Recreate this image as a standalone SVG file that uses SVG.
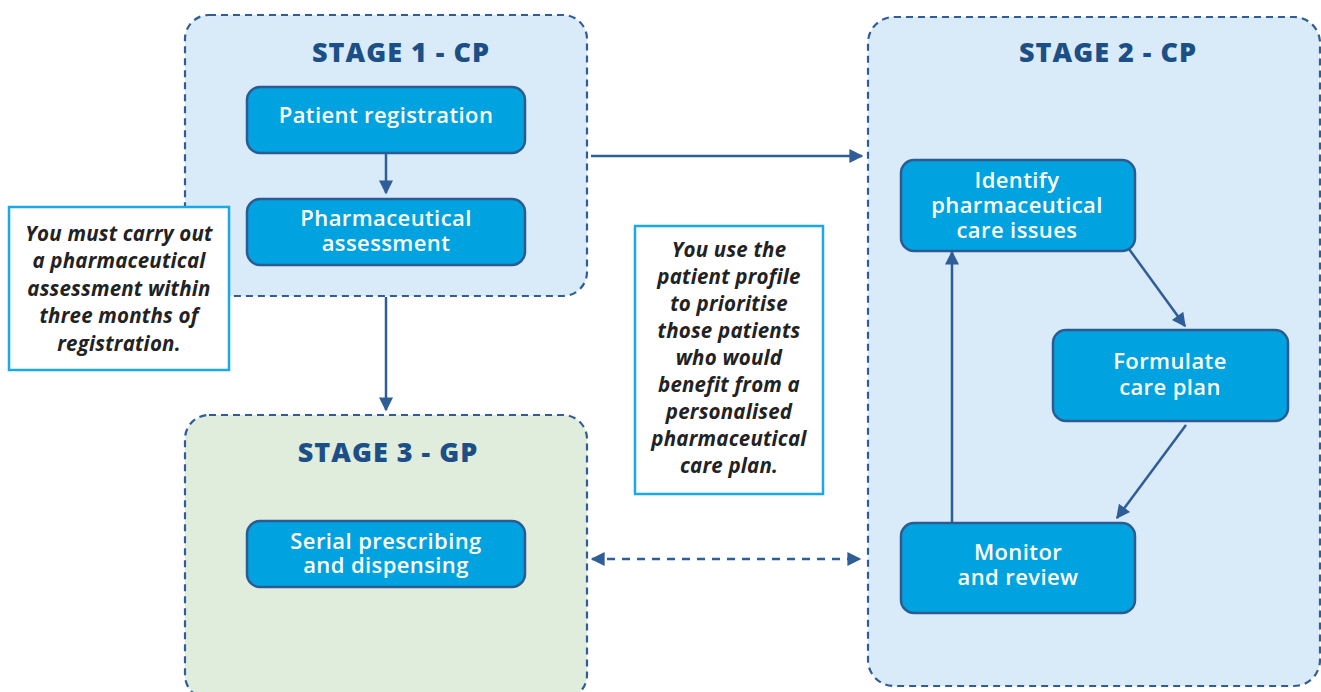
<svg xmlns="http://www.w3.org/2000/svg" width="1321" height="692" viewBox="0 0 1321 692">
  <style>
    .stage { stroke: #2e5d98; stroke-width: 2.2; stroke-dasharray: 7 5; }
    .cp { fill: #d9eaf8; }
    .gp { fill: #e0ecdc; }
    .title { font-family: "Open Sans", "Noto Sans", sans-serif; font-weight: 800; font-size: 27px; letter-spacing: 1px; fill: #1b4f86; text-anchor: middle; }
    .node rect { fill: #00a3e0; stroke: #2b5b92; stroke-width: 2.5; }
    .node text { font-family: "Open Sans", "Noto Sans", sans-serif; font-weight: 600; font-size: 22px; letter-spacing: 0.4px; fill: #ffffff; text-anchor: middle; }
    .note rect { fill: #ffffff; stroke: #1aa9e6; stroke-width: 2.5; }
    .note text { font-family: "Open Sans", "Noto Sans", sans-serif; font-style: italic; font-weight: 700; font-size: 20.5px; letter-spacing: 0.2px; fill: #222222; text-anchor: middle; }
    .edge { stroke: #2e5d98; stroke-width: 2.5; fill: none; }
    .dash { stroke-dasharray: 8 7; }
  </style>
  <defs>
    <marker id="headL" viewBox="0 0 10 10" refX="9" refY="5" markerWidth="18" markerHeight="14" markerUnits="userSpaceOnUse" orient="auto-start-reverse">
      <path d="M0,0 L10,5 L0,10 z" fill="#2e5d98"/>
    </marker>
  </defs>

  <!-- stage containers -->
  <g id="stage1">
    <rect class="stage cp" x="185" y="15" width="402" height="281" rx="24"/>
    <text class="title" x="401" y="62">STAGE 1 - CP</text>
  </g>
  <g id="stage2">
    <rect class="stage cp" x="868" y="17" width="452" height="669" rx="26"/>
    <text class="title" x="1108" y="62">STAGE 2 - CP</text>
  </g>
  <g id="stage3">
    <rect class="stage gp" x="185" y="415" width="402" height="284" rx="24"/>
    <text class="title" x="388" y="462">STAGE 3 - GP</text>
  </g>

  <!-- connectors -->
  <g id="connectors">
    <line class="edge" x1="386" y1="153" x2="386" y2="193" marker-end="url(#headL)"/>
    <line class="edge" x1="591" y1="156" x2="862" y2="156" marker-end="url(#headL)"/>
    <line class="edge" x1="386" y1="297" x2="386" y2="410" marker-end="url(#headL)"/>
    <line class="edge dash" x1="592" y1="559" x2="860" y2="559" marker-start="url(#headL)" marker-end="url(#headL)"/>
    <line class="edge" x1="1129" y1="249" x2="1185" y2="326" marker-end="url(#headL)"/>
    <line class="edge" x1="1186" y1="425" x2="1117" y2="518" marker-end="url(#headL)"/>
    <line class="edge" x1="952" y1="523" x2="952" y2="252" marker-end="url(#headL)"/>
  </g>

  <!-- process steps -->
  <g id="patient-registration" class="node">
    <rect x="247" y="87" width="278" height="66" rx="13"/>
    <text x="386" y="123">Patient registration</text>
  </g>
  <g id="pharmaceutical-assessment" class="node">
    <rect x="247" y="199" width="278" height="66" rx="13"/>
    <text x="386" y="226">Pharmaceutical</text>
    <text x="386" y="251">assessment</text>
  </g>
  <g id="identify-issues" class="node">
    <rect x="901" y="160" width="234" height="91" rx="13"/>
    <text x="1017" y="188">Identify</text>
    <text x="1017" y="213">pharmaceutical</text>
    <text x="1017" y="238">care issues</text>
  </g>
  <g id="formulate-plan" class="node">
    <rect x="1053" y="330" width="235" height="91" rx="13"/>
    <text x="1170" y="369">Formulate</text>
    <text x="1170" y="395">care plan</text>
  </g>
  <g id="monitor-review" class="node">
    <rect x="901" y="523" width="234" height="90" rx="13"/>
    <text x="1018" y="560">Monitor</text>
    <text x="1018" y="585">and review</text>
  </g>
  <g id="serial-prescribing" class="node">
    <rect x="247" y="521" width="278" height="66" rx="13"/>
    <text x="386" y="549">Serial prescribing</text>
    <text x="386" y="573">and dispensing</text>
  </g>

  <!-- notes -->
  <g id="note-assessment" class="note">
    <rect x="9" y="207" width="220" height="163"/>
    <text x="119" y="241">You must carry out</text>
    <text x="119" y="268">a pharmaceutical</text>
    <text x="119" y="296">assessment within</text>
    <text x="119" y="323">three months of</text>
    <text x="119" y="351">registration.</text>
  </g>
  <g id="note-profile" class="note">
    <rect x="635" y="226" width="188" height="268"/>
    <text x="729" y="257">You use the</text>
    <text x="729" y="284">patient profile</text>
    <text x="729" y="311">to prioritise</text>
    <text x="729" y="338">those patients</text>
    <text x="729" y="365">who would</text>
    <text x="729" y="392">benefit from a</text>
    <text x="729" y="419">personalised</text>
    <text x="729" y="446">pharmaceutical</text>
    <text x="729" y="473">care plan.</text>
  </g>
</svg>
